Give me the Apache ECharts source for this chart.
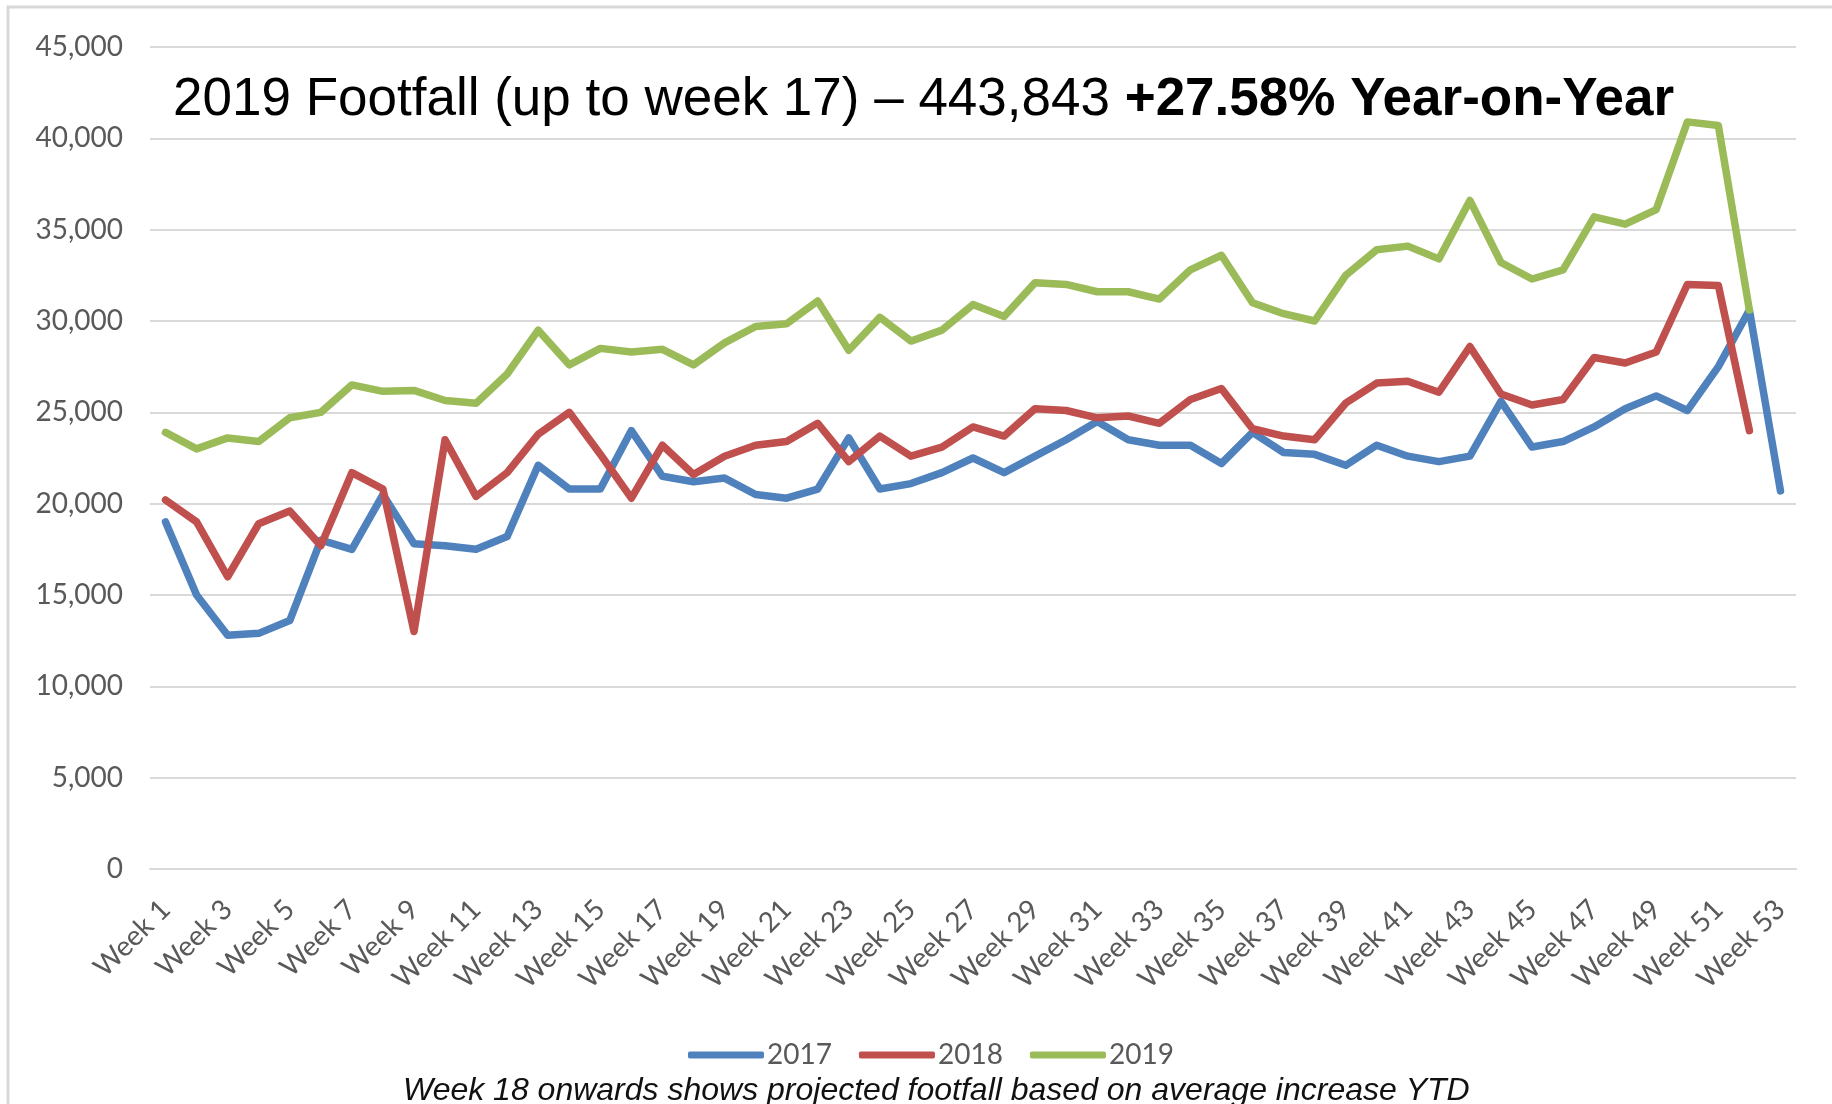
<!DOCTYPE html>
<html>
<head>
<meta charset="utf-8">
<script src="https://cdn.jsdelivr.net/npm/echarts@6/dist/echarts.min.js"></script>
<style>
  html, body { margin: 0; padding: 0; background: #fff; }
  #footfall { width: 1832px; height: 1104px; }
</style>
</head>
<body>
<div id="footfall"></div>
<script>
// weekly footfall
const weeks = [];
for (let i = 1; i <= 53; i++) weeks.push("Week " + i);

const footfall2017 = [
  19000, 15000, 12800, 12900, 13600, 18000, 17500, 20500, 17800, 17700,
  17500, 18200, 22100, 20800, 20800, 24000, 21500, 21200, 21400, 20500,
  20300, 20800, 23600, 20800, 21100, 21700, 22500, 21700, 22600, 23500,
  24500, 23500, 23200, 23200, 22200, 23900, 22800, 22700, 22100, 23200,
  22600, 22300, 22600, 25600, 23100, 23400, 24200, 25200, 25900, 25100,
  27500, 30600, 20700,
];
const footfall2018 = [
  20200, 19000, 16000, 18900, 19600, 17700, 21700, 20800, 13000, 23500,
  20400, 21700, 23800, 25000, 22700, 20300, 23200, 21600, 22600, 23200,
  23400, 24400, 22300, 23700, 22600, 23100, 24200, 23700, 25200, 25100,
  24700, 24800, 24400, 25700, 26300, 24100, 23700, 23500, 25500, 26600,
  26700, 26100, 28600, 26000, 25400, 25700, 28000, 27700, 28300, 32000,
  31950, 24000,
];
const footfall2019 = [
  23900, 23000, 23600, 23400, 24700, 25000, 26500, 26150, 26200, 25650,
  25500, 27100, 29500, 27600, 28500, 28300, 28450, 27600, 28800, 29700,
  29850, 31100, 28400, 30200, 28900, 29500, 30900, 30250, 32100, 32000,
  31600, 31600, 31200, 32800, 33600, 31000, 30400, 30000, 32500, 33900,
  34100, 33400, 36600, 33200, 32300, 32800, 35700, 35300, 36100, 40900,
  40700, 30600,
];

const seriesNames = ["2017", "2018", "2019"];
const seriesColors = ["#4F81BD", "#C0504D", "#9BBB59"];
const seriesData = [footfall2017, footfall2018, footfall2019];

const labelFont = "Lato, 'Open Sans', sans-serif";
const arial = "'Liberation Sans', Arial, sans-serif";

let footfallChart = echarts.init(document.getElementById("footfall"));

let footfallOption = {
  backgroundColor: "#fff",
  animation: false,
  title: [
    {
      left: 168,
      top: 64,
      text: "{n|2019 Footfall (up to week 17) – 443,843 }{b|+27.58% Year-on-Year}",
      textStyle: {
        fontWeight: "normal",
        rich: {
          n: {
            fontFamily: arial,
            fontSize: 53,
            fontWeight: "normal",
            color: "#000",
            lineHeight: 62,
          },
          b: {
            fontFamily: arial,
            fontSize: 53,
            fontWeight: "bold",
            color: "#000",
            lineHeight: 62,
          },
        },
      },
    },
    {
      left: 398,
      top: 1070,
      text: "Week 18 onwards shows projected footfall based on average increase YTD",
      textStyle: {
        fontFamily: arial,
        fontSize: 32,
        fontStyle: "italic",
        fontWeight: "normal",
        color: "#111",
      },
    },
  ],
  graphic: [
    {
      type: "rect",
      shape: { x: 8, y: 7, width: 1900, height: 1200 },
      style: { fill: "none", stroke: "#D9D9D9", lineWidth: 3 },
      silent: true,
    },
  ],
  legend: {
    left: 683,
    top: 1036,
    icon: "roundRect",
    itemWidth: 76,
    itemHeight: 7,
    itemGap: 27,
    data: seriesNames,
    textStyle: {
      fontFamily: labelFont,
      fontSize: 28,
      color: "#595959",
      padding: [0, 0, 0, -2],
    },
  },
  grid: {
    left: 150,
    right: 36,
    top: 47,
    bottom: 235,
    containLabel: false,
  },
  xAxis: {
    type: "category",
    boundaryGap: true,
    data: weeks,
    axisLine: { lineStyle: { color: "#D9D9D9", width: 2 } },
    axisTick: { show: false },
    axisLabel: {
      interval: 1,
      rotate: 45,
      margin: 36,
      fontFamily: labelFont,
      fontSize: 28,
      color: "#595959",
    },
  },
  yAxis: {
    type: "value",
    min: 0,
    max: 45000,
    interval: 5000,
    axisLine: { show: false },
    axisTick: { show: false },
    splitLine: { lineStyle: { color: "#D9D9D9", width: 2 } },
    axisLabel: {
      margin: 27,
      fontFamily: labelFont,
      fontSize: 28,
      color: "#595959",
      formatter: (v) => v.toLocaleString("en-US"),
    },
  },
  series: [],
};

footfallOption.series = seriesNames.map((name, i) => ({
  name: name,
  type: "line",
  data: seriesData[i],
  showSymbol: false,
  symbol: "none",
  color: seriesColors[i],
  lineStyle: { width: 7.5, color: seriesColors[i], cap: "round", join: "round" },
}));

footfallChart.setOption(footfallOption, true);
</script>
</body>
</html>
